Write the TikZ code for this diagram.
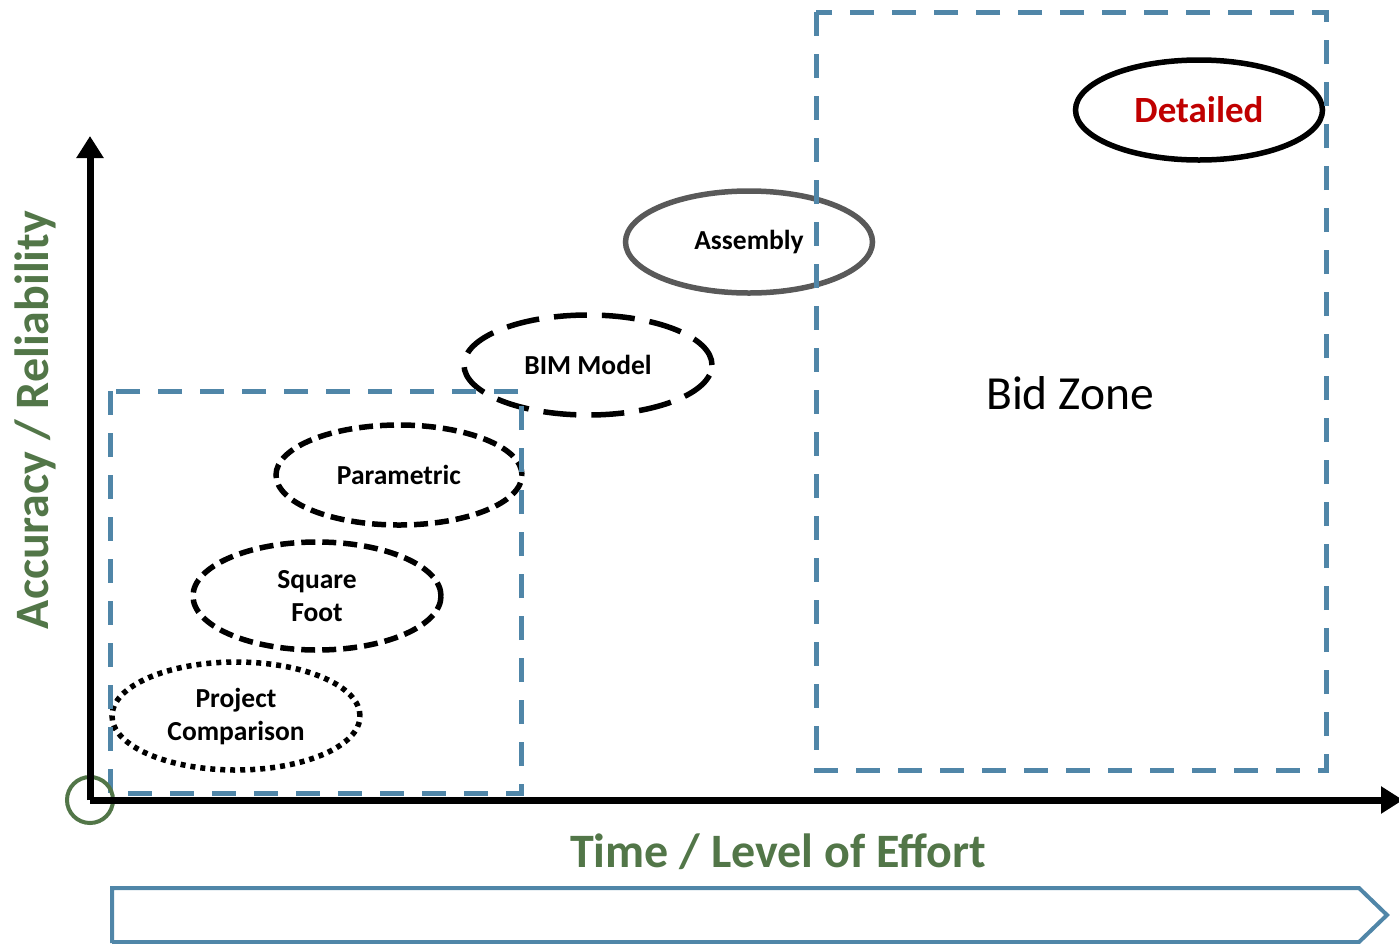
\documentclass[tikz,border=0pt]{standalone}
\usepackage{fontspec}
\setmainfont{Carlito}
\usetikzlibrary{shapes.geometric,arrows.meta}
\definecolor{zoneblue}{RGB}{80,134,168}
\definecolor{axisgreen}{RGB}{82,118,72}
\definecolor{estgray}{RGB}{89,89,89}
\definecolor{detred}{RGB}{192,0,0}
\tikzset{
  est/.style={ellipse, inner sep=0pt, line width=5.5pt, font=\fontsize{27.5}{33}\selectfont\bfseries, align=center},
  zone/.style={draw=zoneblue, line width=5pt, dash pattern=on 24pt off 18pt},
  axisline/.style={line width=7pt, -{Triangle[length=22pt,width=26pt]}},
  axislabel/.style={text=axisgreen, font=\fontsize{48}{52}\selectfont\bfseries}
}
\begin{document}
\begin{tikzpicture}[x=1pt,y=-1pt]
\useasboundingbox (0,0) rectangle (1399,943);

% estimate types, from rough to detailed
\node[est, draw, dash pattern=on 5pt off 5pt, minimum width=248pt, minimum height=108pt] (proj) at (236,716) {Project\\Comparison};
\node[est, draw, dash pattern=on 14pt off 7pt, minimum width=248pt, minimum height=108pt] (sqft) at (317,596) {Square\\Foot};
\node[est, draw, dash pattern=on 14pt off 7pt, minimum width=246pt, minimum height=100pt] (param) at (399,475) {Parametric};
\node[est, draw, dash pattern=on 33pt off 15pt, minimum width=248pt, minimum height=100pt] (bim) at (588,365) {BIM Model};
\node[est, draw=estgray, minimum width=247pt, minimum height=102pt] (assy) at (749,242) {Assembly};
\node[est, draw, text=detred, font=\fontsize{37}{40}\selectfont\bfseries, minimum width=247pt, minimum height=100pt] (det) at (1199,110) {Detailed};

% dashed zones
\draw[zone] (110,391) rectangle (521,793);
\draw[zone] (816,12) rectangle (1326,770);
\node[font=\fontsize{47.5}{52}\selectfont] (bid) at (1070,393) {Bid Zone};

% axes
\coordinate (origin) at (90,800);
\coordinate (ytip) at (90,136);
\coordinate (xtip) at (1403,800);
\node[circle, draw=axisgreen, line width=4pt, minimum size=46pt, inner sep=0pt] (omark) at (origin) {};
\draw[axisline] (origin) -- (ytip);
\draw[axisline] (origin) -- (xtip);
\node[axislabel] (xlab) at (778,852) {Time / Level of Effort};
\node[axislabel, rotate=90] (ylab) at (35,420) {Accuracy / Reliability};

% progress chevron
\draw[zoneblue, line width=4pt, line join=miter] (112,943) -- (112,888) -- (1359,888) -- (1387,915) -- (1359,942) -- (112,942);
\end{tikzpicture}
\end{document}
